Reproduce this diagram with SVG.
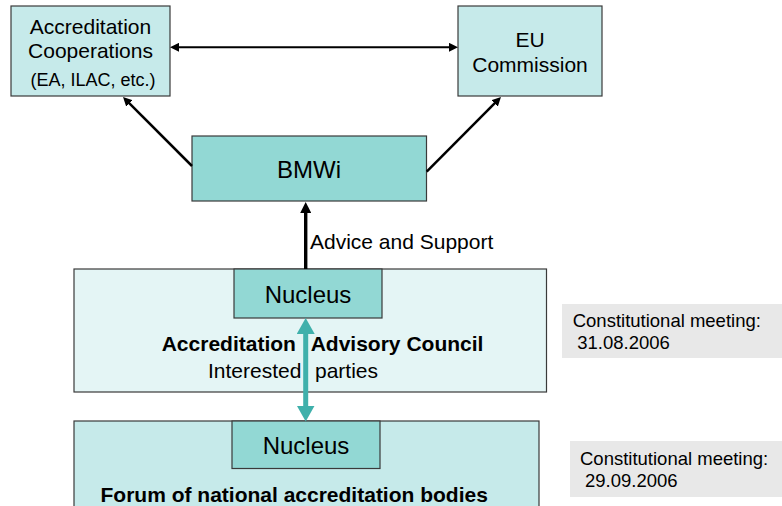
<svg xmlns="http://www.w3.org/2000/svg" width="782" height="506" viewBox="0 0 782 506">
<style>
  text { font-family: "Liberation Sans", Arial, sans-serif; fill: #000; }
  .box { stroke: #3a3a3a; stroke-width: 1.2; }
  .light { fill: #c6eaea; }
  .dark { fill: #92d8d4; }
  .pale { fill: #e4f5f5; }
  .note { fill: #e8e8e8; }
  .t21 { font-size: 21px; }
  .t18 { font-size: 18px; }
  .t24 { font-size: 24px; }
  .nt { font-size: 18.5px; }
  .b { font-weight: bold; }
  .mid { text-anchor: middle; }
  .blk { stroke: #000; fill: none; }
</style>
<defs>
  <marker id="ah" viewBox="0 0 10 10" refX="5" refY="5" markerWidth="9" markerHeight="9" markerUnits="userSpaceOnUse" orient="auto-start-reverse">
    <path d="M0,0 L10,5 L0,10 z" fill="#000"/>
  </marker>
  <marker id="ahBig" viewBox="0 0 10 10" refX="5" refY="5" markerWidth="11" markerHeight="11" markerUnits="userSpaceOnUse" orient="auto-start-reverse">
    <path d="M0,0 L10,5 L0,10 z" fill="#000"/>
  </marker>
  <marker id="ahTeal" viewBox="0 0 16 18" refX="8" refY="9" markerWidth="16" markerHeight="18" markerUnits="userSpaceOnUse" orient="auto-start-reverse">
    <path d="M0,0 L16,9 L0,18 z" fill="#3fb0ab"/>
  </marker>
</defs>

<g id="coop">
  <rect class="box light" x="11" y="6" width="159" height="90"/>
  <text class="t21 mid" x="90.5" y="34">Accreditation</text>
  <text class="t21 mid" x="90.5" y="58">Cooperations</text>
  <text class="t18 mid" x="93" y="86">(EA, ILAC, etc.)</text>
</g>

<g id="eu">
  <rect class="box light" x="458" y="6" width="144" height="90"/>
  <text class="t21 mid" x="530" y="46.5">EU</text>
  <text class="t21 mid" x="530" y="71.5">Commission</text>
</g>

<g id="bmwi">
  <rect class="box dark" x="192" y="136" width="234.5" height="65"/>
  <text class="t24 mid" x="309" y="178">BMWi</text>
</g>

<g id="council">
  <rect class="box pale" x="74" y="269" width="472.5" height="123"/>
  <text class="t21 b" x="161.7" y="350.5">Accreditation</text>
  <text class="t21 b" x="310.7" y="350.5">Advisory Council</text>
  <text class="t21" x="208" y="377.5">Interested</text>
  <text class="t21" x="315" y="377.5">parties</text>
</g>

<g id="nucleus1">
  <rect class="box dark" x="234" y="269" width="148" height="49"/>
  <text class="t24 mid" x="308" y="302.5">Nucleus</text>
</g>

<g id="forum">
  <rect class="box light" x="74" y="421" width="465" height="100"/>
  <text class="t21 b" x="100.5" y="501.5">Forum of national accreditation bodies</text>
</g>

<g id="nucleus2">
  <rect class="box dark" x="232" y="421" width="148" height="47.5"/>
  <text class="t24 mid" x="306" y="454">Nucleus</text>
</g>

<g id="note1">
  <rect class="note" x="562" y="304" width="220" height="54"/>
  <text class="nt" x="572.7" y="327">Constitutional meeting:</text>
  <text class="nt" x="577.3" y="349">31.08.2006</text>
</g>

<g id="note2">
  <rect class="note" x="570" y="441" width="212" height="56"/>
  <text class="nt" x="580" y="465">Constitutional meeting:</text>
  <text class="nt" x="585" y="487">29.09.2006</text>
</g>

<g id="connectors">
  <line class="blk" x1="174.5" y1="47.3" x2="453.5" y2="47.3" stroke-width="2" marker-start="url(#ah)" marker-end="url(#ah)"/>
  <line class="blk" x1="192" y1="166" x2="126.2" y2="100.2" stroke-width="2.5" marker-end="url(#ah)"/>
  <line class="blk" x1="426.7" y1="171.7" x2="497.8" y2="100.2" stroke-width="2.5" marker-end="url(#ah)"/>
  <line class="blk" x1="305.7" y1="269" x2="305.7" y2="207.5" stroke-width="3.4" marker-end="url(#ahBig)"/>
  <text class="t21" x="310" y="249.3">Advice and Support</text>
  <line x1="305.7" y1="326" x2="305.7" y2="413.5" stroke="#3fb0ab" stroke-width="5" marker-start="url(#ahTeal)" marker-end="url(#ahTeal)"/>
</g>
</svg>
